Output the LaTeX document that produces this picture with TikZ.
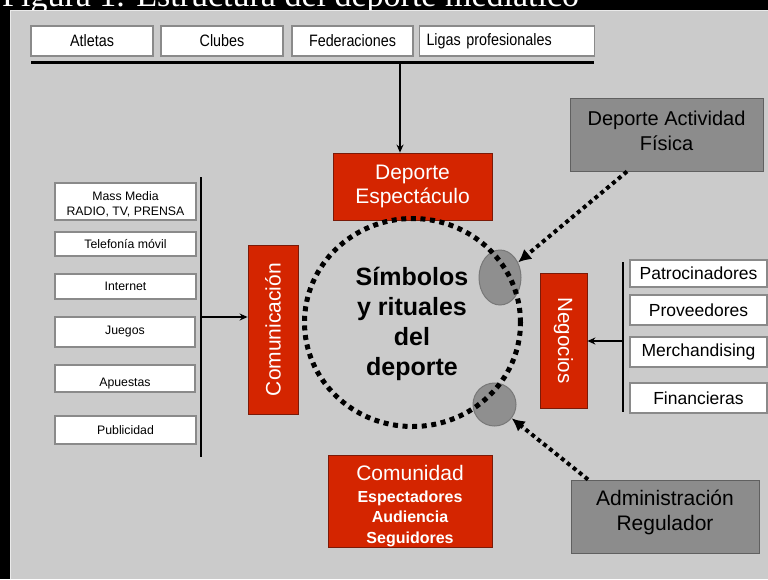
\documentclass[tikz,border=0pt]{standalone}
\usepackage{fontspec}
\usepackage{graphicx}
\setmainfont{Liberation Sans}
\newfontfamily\serifT{Liberation Serif}
\newfontfamily\narrowF[FakeStretch=0.87]{Liberation Sans}
\usetikzlibrary{arrows.meta,shapes.geometric,calc}
\definecolor{panel}{HTML}{CBCBCB}
\definecolor{rojo}{HTML}{D42500}
\definecolor{rojoborde}{HTML}{7A1A08}
\definecolor{gris}{HTML}{8C8C8C}
\definecolor{grisborde}{HTML}{606060}
\definecolor{elip}{HTML}{8F8F8F}
\definecolor{wborde}{HTML}{8A8A8A}
\newcommand\fsz[2]{\fontsize{#1}{#2}\selectfont}
\begin{document}
\begin{tikzpicture}[x=1pt,y=-1pt,
 wbox/.style={draw=wborde, line width=1.2pt, fill=white, inner sep=0pt, align=center},
 redbox/.style={draw=rojoborde, line width=0.8pt, fill=rojo, inner sep=0pt},
 graybox/.style={draw=grisborde, line width=1pt, fill=gris, inner sep=0pt},
 txt/.style={inner sep=0pt, align=center, anchor=north},
 blobshape/.style={ellipse, draw=grisborde!85, line width=1pt, fill=elip, inner sep=0pt},
 ringshape/.style={ellipse, draw=black, line width=5pt, dash pattern=on 5pt off 4.6pt, inner sep=0pt},
 dotarrow/.style={draw=black, line width=4pt, dash pattern=on 4pt off 3.6pt, -{Latex[length=13pt,width=13pt]}},
 arr/.style={line width=1.5pt, -{Stealth[length=8pt,width=7pt]}},
 barline/.style={line width=2.6pt},
 topf/.style={font=\narrowF\fsz{16.5}{18}},
 leftf/.style={font=\fsz{12.3}{15}},
 rightf/.style={font=\fsz{17.5}{20}},
]
\useasboundingbox (0,0) rectangle (768,579);
\clip (0,0) rectangle (768,579);
\fill[black] (0,0) rectangle (768,579);
\node[anchor=base west, text=white, font=\serifT\fsz{34}{40}, inner sep=0pt] (title) at (2,6.5) {Figura 1. Estructura del deporte mediático};
\fill[panel] (10,10) rectangle (768,579);
\draw[white!60!panel, line width=1pt] (10.5,579) -- (10.5,10.5) -- (768,10.5);

% top row
\node[wbox, topf, minimum width=122pt, minimum height=30pt] (atl) at (92,41) {Atletas};
\node[wbox, topf, minimum width=122pt, minimum height=30pt] (clu) at (222,41) {Clubes};
\node[wbox, topf, minimum width=121pt, minimum height=30pt] (fed) at (352.5,41) {Federaciones};
\node[wbox, topf, minimum width=175pt, minimum height=30pt, inner xsep=7pt, text width=161pt, align=left] (lig) at (507,41) {Ligas profesionales};
\coordinate (tl) at (31,62);
\coordinate (tr) at (594,62);
\coordinate (tm) at (400,62);
\draw[line width=3pt] (tl) -- (tr);

% Deporte espectaculo
\node[redbox, minimum width=159pt, minimum height=67pt] (de) at (412.5,186.5) {};
\node[txt, text=white, font=\fsz{21}{24}] (detx) at (412.5,165) {Deporte\\Espectáculo};
\draw[arr] (tm) -- (tm |- de.north);

% left column
\node[wbox, minimum width=141pt, minimum height=37pt] (mm) at (125.5,201.5) {};
\node[txt, leftf] (mmtx) at (125.5,191.7) {Mass Media\\RADIO, TV, PRENSA};
\node[wbox, leftf, minimum width=141pt, minimum height=24pt] (tel) at (125.5,244) {Telefonía móvil};
\node[wbox, leftf, minimum width=141pt, minimum height=25pt] (int) at (125.5,286.5) {Internet};
\node[wbox, leftf, minimum width=140pt, minimum height=30pt] (jue) at (125,332) {Juegos};
\node[wbox, leftf, minimum width=140pt, minimum height=27pt, text height=17.8pt] (apu) at (125,378.5) {Apuestas};
\node[wbox, leftf, minimum width=141pt, minimum height=28pt] (pub) at (125.5,430) {Publicidad};
\coordinate (lt) at (201,177);
\coordinate (lb) at (201,457);
\coordinate (lm) at (201,317);
\draw[barline] (lt) -- (lb);

% Comunicacion
\node[redbox, text=white, font=\fsz{21}{24}, minimum width=50pt, minimum height=169pt] (com) at (273,329.5) {\rotatebox{90}{Comunicación}};
\draw[arr] (lm) -- (lm -| com.west);

% central ellipses and ring
\node[blobshape, minimum width=42pt, minimum height=55pt] (e1) at (500,277.5) {};
\node[blobshape, minimum width=43pt, minimum height=43pt] (e2) at (494.5,404.5) {};
\node[ringshape, minimum width=216pt, minimum height=208pt] (sr) at (412.5,322.5) {};
\node[txt, font=\bfseries\fsz{25}{30}] (srtx) at (412,266.5) {Símbolos\\y rituales\\del\\deporte};

% Deporte actividad fisica
\node[graybox, minimum width=193pt, minimum height=73pt] (daf) at (666.5,134.5) {};
\node[txt, font=\fsz{20}{25}] (daftx) at (666.5,110.4) {Deporte Actividad\\Física};

% Negocios + right column
\node[redbox, text=white, font=\fsz{20.6}{24}, minimum width=47pt, minimum height=135pt] (neg) at (563.5,340.5) {\rotatebox{-90}{Negocios}};
\node[wbox, rightf, minimum width=137pt, minimum height=27pt] (pat) at (698.5,273.5) {Patrocinadores};
\node[wbox, rightf, minimum width=137pt, minimum height=30pt] (pro) at (698.5,310) {Proveedores};
\node[wbox, rightf, minimum width=137pt, minimum height=30pt] (mer) at (698.5,352) {Merchandising};
\node[wbox, rightf, minimum width=137pt, minimum height=30pt] (fin) at (698.5,398) {Financieras};
\coordinate (rt) at (623,262);
\coordinate (rb) at (623,412);
\coordinate (rm) at (623,341);
\draw[barline] (rt) -- (rb);
\draw[arr] (rm) -- (rm -| neg.east);

% Comunidad
\node[redbox, minimum width=164pt, minimum height=92pt] (cmd) at (410,501) {};
\node[txt, text=white, font=\bfseries\fsz{16}{20.5}] (cmdtx) at (410,464.7) {{\mdseries\fsz{21}{22}Comunidad}\\[1.5pt]Espectadores\\Audiencia\\Seguidores};

% Administracion
\node[graybox, minimum width=188pt, minimum height=73pt] (adm) at (665,516.5) {};
\node[txt, font=\fsz{21}{25}] (admtx) at (665,489.7) {Administración\\Regulador};

% dotted arrows
\draw[dotarrow] ($(daf.south)+(-39.5,0)$) -- (e1);
\draw[dotarrow] ($(adm.north)+(-77,0)$) -- (e2);
\end{tikzpicture}
\end{document}
